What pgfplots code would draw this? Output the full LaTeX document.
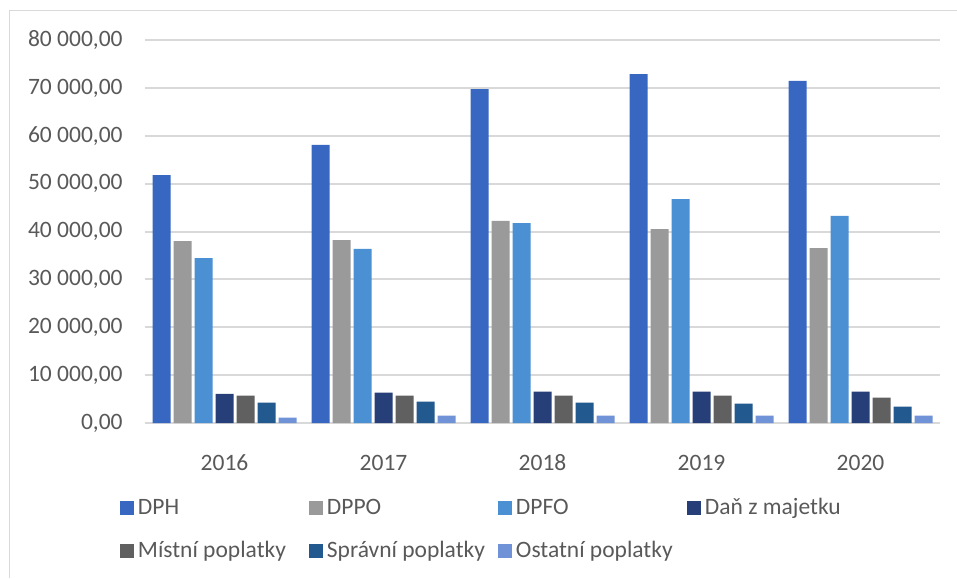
\documentclass[border=0pt]{standalone}
\usepackage{fontspec}
\setmainfont{Carlito}
\usepackage{pgfplots}
\pgfplotsset{compat=1.18}

\definecolor{cDPH}{HTML}{3767C1}
\definecolor{cDPPO}{HTML}{9A9A9A}
\definecolor{cDPFO}{HTML}{4A90D2}
\definecolor{cDan}{HTML}{263F78}
\definecolor{cMist}{HTML}{606060}
\definecolor{cSpr}{HTML}{22598F}
\definecolor{cOst}{HTML}{7093D8}
\definecolor{gridc}{HTML}{D9D9D9}
\definecolor{txt}{HTML}{595959}

\newcommand{\lbl}{\fontsize{11.75}{14}\selectfont\color{txt}}

\begin{document}
\begin{tikzpicture}
% chart frame (top and left edge only are visible)
\draw[gridc, line width=0.75pt] (4.75pt,0pt) -- (4.75pt,283.75pt) -- (478.5pt,283.75pt);

\begin{axis}[
    at={(72.5pt,77.5pt)}, anchor=south west,
    scale only axis,
    width=397.5pt, height=191.5pt,
    ybar=1.5pt,
    bar width=9pt,
    xmin=-0.5, xmax=4.5,
    ymin=0, ymax=80000,
    xtick=data,
    xticklabels={2016,2017,2018,2019,2020},
    ytick={0,10000,...,80000},
    scaled y ticks=false,
    /pgf/number format/fixed,
    /pgf/number format/fixed zerofill,
    /pgf/number format/precision=2,
    /pgf/number format/use comma,
    /pgf/number format/1000 sep={\ },
    /pgf/number format/assume math mode=true,
    axis x line*=bottom,
    axis y line*=left,
    y axis line style={draw=none},
    x axis line style={draw=gridc, line width=1pt},
    tick style={draw=none},
    ymajorgrids,
    major grid style={draw=gridc, line width=1pt},
    x tick label style={font=\lbl, anchor=base, yshift=-19.25pt},
    y tick label style={font=\lbl, anchor=east, inner sep=0pt, xshift=-11pt},
    legend columns=4,
    legend style={
        at={(axis description cs:-0.0315,-0.278)}, anchor=west,
        draw=none, fill=none, inner sep=0pt, outer sep=0pt,
        font=\lbl,
        row sep=11.5pt,
        nodes={inner sep=0pt},
        /tikz/every odd column/.append style={column sep=2pt},
        /tikz/every even column/.append style={column sep=0pt},
    },
    legend cell align=left,
    every axis plot post/.append style={
        legend image code/.code={\fill[##1] (0pt,-3.5pt) rectangle (7pt,3.5pt);}},
]
\addplot[fill=cDPH, draw=none] coordinates {(0,51800) (1,58070) (2,69760) (3,72900) (4,71440)};
\addplot[fill=cDPPO, draw=none] coordinates {(0,38000) (1,38200) (2,42200) (3,40500) (4,36550)};
\addplot[fill=cDPFO, draw=none] coordinates {(0,34460) (1,36350) (2,41770) (3,46790) (4,43240)};
\addplot[fill=cDan, draw=none] coordinates {(0,6060) (1,6330) (2,6540) (3,6540) (4,6540)};
\addplot[fill=cMist, draw=none] coordinates {(0,5700) (1,5700) (2,5700) (3,5700) (4,5290)};
\addplot[fill=cSpr, draw=none] coordinates {(0,4240) (1,4450) (2,4240) (3,4030) (4,3410)};
\addplot[fill=cOst, draw=none] coordinates {(0,1100) (1,1530) (2,1530) (3,1530) (4,1530)};
\legend{\makebox[85.5pt][l]{DPH},\makebox[85.5pt][l]{DPPO},\makebox[85.5pt][l]{DPFO},\makebox[85.5pt][l]{Daň z majetku},
        \makebox[85.5pt][l]{Místní poplatky},\makebox[85.5pt][l]{Správní poplatky},\makebox[85.5pt][l]{Ostatní poplatky}}
\end{axis}
\pgfresetboundingbox
\useasboundingbox (0,0) rectangle (478.5pt,289pt);
\end{tikzpicture}
\end{document}
